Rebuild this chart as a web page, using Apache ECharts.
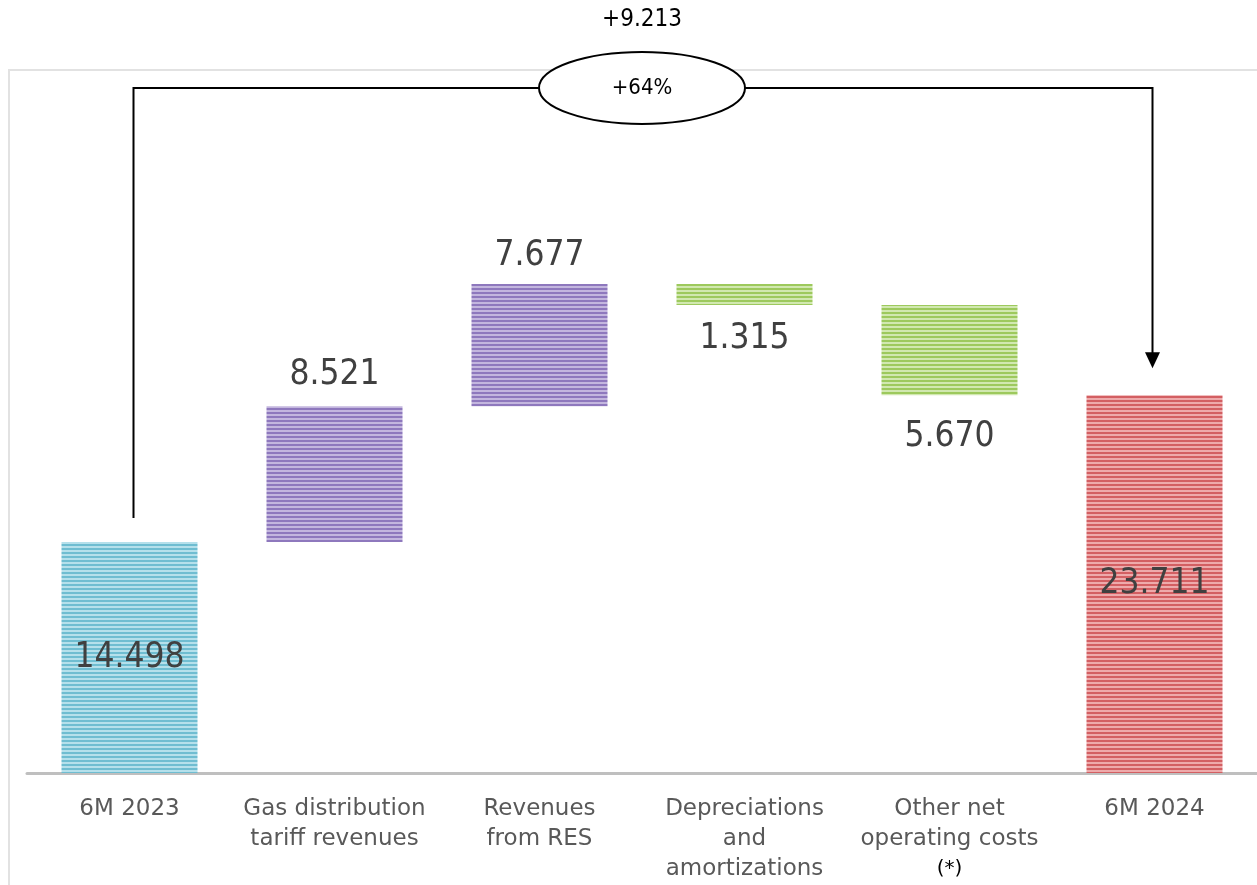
<!DOCTYPE html>
<html>
<head>
<meta charset="utf-8">
<script src="https://cdn.jsdelivr.net/npm/echarts@6/dist/echarts.min.js"></script>
<style>
  html, body { margin: 0; padding: 0; background: #ffffff; }
  #chart { width: 1257px; height: 885px; }
</style>
</head>
<body>
<div id="chart"></div>
<script>
// Walk from 6M 2023 to 6M 2024 (values in thousands)
const categories = [
  '6M 2023',
  'Gas distribution\ntariff revenues',
  'Revenues\nfrom RES',
  'Depreciations\nand\namortizations',
  'Other net\noperating costs\n(*)',
  '6M 2024'
];
// first and last entries are totals, the rest are changes
const stepKinds = ['total', 'delta', 'delta', 'delta', 'delta', 'total'];
const stepValues = [14498, 8521, 7677, -1315, -5670, 23711];

// stripe colour pairs per bar [dark, light]
const barStripes = [
  ['#6fbdd1', '#b5e0eb'],
  ['#8e78bd', '#c3b6de'],
  ['#8e78bd', '#c3b6de'],
  ['#9dc95d', '#d1e8b0'],
  ['#9dc95d', '#d1e8b0'],
  ['#d35f62', '#eeaaab']
];
// gap between a bar and its value label
const labelGap = [5, 14, 11, 16, 24, 5];

// bracket levels for the overall-change connector
const bracketTop = 43000;
const bracketStart = 16000;
const bracketEnd = 25400;

function fmt(v) {
  return Math.abs(v).toString().replace(/\B(?=(\d{3})+(?!\d))/g, '.');
}

function stripePattern(dark, light) {
  const c = document.createElement('canvas');
  c.width = 8; c.height = 4;
  const g = c.getContext('2d');
  g.fillStyle = light; g.fillRect(0, 0, 8, 4);
  g.fillStyle = dark; g.fillRect(0, 0, 8, 2);
  return { image: c, repeat: 'repeat' };
}

// transparent bases and visible pieces of the waterfall
const baseData = [];
const pieceData = [];
let running = 0;
stepValues.forEach((v, i) => {
  const pat = stripePattern(barStripes[i][0], barStripes[i][1]);
  let base, size, pos;
  if (stepKinds[i] === 'total') {
    base = 0; size = v; running = v; pos = 'inside';
  } else if (v >= 0) {
    base = running; size = v; running += v; pos = 'top';
  } else {
    running += v; base = running; size = -v; pos = 'bottom';
  }
  baseData.push(base);
  pieceData.push({
    value: size,
    itemStyle: { color: pat },
    label: { position: pos, distance: labelGap[i], formatter: fmt(v) }
  });
});

const chart = echarts.init(document.getElementById('chart'), null, { renderer: 'canvas' });

chart.setOption({
  animation: false,
  grid: { left: 27, right: 0, top: 72, bottom: 112 },
  xAxis: {
    type: 'category',
    data: categories,
    axisLine: { show: true, lineStyle: { color: '#bfbfbf', width: 3 } },
    axisTick: { show: false },
    axisLabel: {
      interval: 0,
      margin: 21,
      color: '#595959',
      fontFamily: 'DejaVu Sans',
      fontSize: 23,
      lineHeight: 30,
      formatter: (s) => s.replace('(*)', '{note|(*)}'),
      rich: {
        note: { color: '#000000', fontFamily: 'DejaVu Sans', fontSize: 20, lineHeight: 30 }
      }
    }
  },
  yAxis: {
    type: 'value',
    min: 0,
    max: 44000,
    show: false,
    splitLine: { show: false }
  },
  series: [
    {
      type: 'bar',
      stack: 'walk',
      data: baseData,
      barWidth: 136,
      itemStyle: { color: 'rgba(0,0,0,0)' },
      silent: true
    },
    {
      type: 'bar',
      stack: 'walk',
      data: pieceData,
      barWidth: 136,
      label: {
        show: true,
        color: '#404040',
        fontFamily: 'DejaVu Sans Condensed',
        fontSize: 35
      }
    }
  ]
});

// connector from the first total to the last, with the overall change
const first = 0, last = stepValues.length - 1;
const change = stepValues[last] - stepValues[first];
const pct = Math.round(change / stepValues[first] * 100);
const pA = chart.convertToPixel({ gridIndex: 0 }, [first, bracketStart]);
const pTopL = chart.convertToPixel({ gridIndex: 0 }, [first, bracketTop]);
const pTopR = chart.convertToPixel({ gridIndex: 0 }, [last, bracketTop]);
const pEnd = chart.convertToPixel({ gridIndex: 0 }, [last, bracketEnd]);
const midX = (chart.convertToPixel({ gridIndex: 0 }, [2, 0])[0] + chart.convertToPixel({ gridIndex: 0 }, [3, 0])[0]) / 2;
const xL = pA[0] + 4, xR = pEnd[0] - 2;
const cy = pTopL[1];
const head = 15;

chart.setOption({
  graphic: [
    {
      // light frame around the plot area
      type: 'polyline', z: 0, silent: true,
      shape: { points: [[9, 900], [9, 70], [1300, 70]] },
      style: { stroke: '#e2e2e2', lineWidth: 2, fill: 'none' }
    },
    {
      type: 'polyline', z: 10, silent: true,
      shape: { points: [[xL, pA[1]], [xL, cy], [xR, cy], [xR, pEnd[1] - head]] },
      style: { stroke: '#000', lineWidth: 2, fill: 'none' }
    },
    {
      type: 'polygon', z: 10, silent: true,
      shape: { points: [[xR - 7.5, pEnd[1] - head - 1], [xR + 7.5, pEnd[1] - head - 1], [xR, pEnd[1]]] },
      style: { fill: '#000' }
    },
    {
      type: 'ellipse', z: 11, silent: true,
      shape: { cx: midX, cy: cy, rx: 103, ry: 36 },
      style: { fill: '#fff', stroke: '#000', lineWidth: 2 }
    },
    {
      type: 'text', z: 12, silent: true,
      x: midX, y: cy,
      style: {
        text: '+' + pct + '%', fill: '#000', fontFamily: 'DejaVu Sans Condensed',
        fontSize: 22, align: 'center', verticalAlign: 'middle'
      }
    },
    {
      type: 'text', z: 12, silent: true,
      x: midX, y: cy - 68,
      style: {
        text: '+' + fmt(change), fill: '#000', fontFamily: 'DejaVu Sans Condensed',
        fontSize: 24, align: 'center', verticalAlign: 'middle'
      }
    }
  ]
});
</script>
</body>
</html>
